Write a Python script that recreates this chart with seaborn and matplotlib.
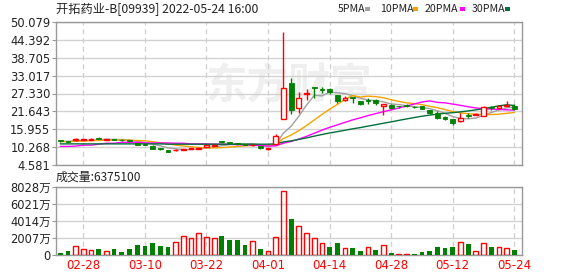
import numpy as np
import pandas as pd
import matplotlib
matplotlib.use("Agg")
import matplotlib.pyplot as plt
from matplotlib.patches import Rectangle
import seaborn as sns

# ---------------- data ----------------
title = "开拓药业-B[09939] 2022-05-24 16:00"
dates = ["02-23", "02-24", "02-25", "02-28", "03-01", "03-02", "03-03", "03-04", "03-07", "03-08",
         "03-09", "03-10", "03-11", "03-14", "03-15", "03-16", "03-17", "03-18", "03-21", "03-22",
         "03-23", "03-24", "03-25", "03-28", "03-29", "03-30", "03-31", "04-01", "04-04", "04-06",
         "04-07", "04-08", "04-11", "04-12", "04-13", "04-14", "04-19", "04-20", "04-21", "04-22",
         "04-25", "04-26", "04-27", "04-28", "04-29", "05-03", "05-04", "05-05", "05-06", "05-10",
         "05-11", "05-12", "05-13", "05-16", "05-17", "05-18", "05-19", "05-20", "05-23", "05-24"]
opens = [12.3, 12.0, 12.4, 12.6, 12.6, 13.0, 12.6, 12.7, 12.5, 12.2,
         11.5, 11.2, 10.7, 9.7, 9.3, 9.2, 9.5, 9.8, 9.7, 10.4,
         10.6, 11.9, 11.9, 11.5, 11.1, 10.8, 10.6, 9.7, 11.4, 19.1,
         30.6, 22.8, 27.2, 29.3, 28.5, 28.8, 26.9, 25.3, 26.1, 25.0,
         25.2, 25.3, 23.4, 23.8, 23.3, 23.8, 23.0, 23.2, 22.1, 21.0,
         20.0, 19.2, 18.5, 20.4, 20.6, 20.3, 22.8, 22.6, 23.5, 23.5]
highs = [12.5, 12.1, 13.2, 12.9, 13.1, 13.4, 12.9, 13.0, 12.7, 12.4,
         11.6, 11.3, 10.8, 10.0, 9.4, 9.6, 9.8, 10.1, 10.2, 11.1,
         10.9, 12.1, 12.0, 11.6, 11.2, 11.1, 10.7, 10.0, 14.4, 46.8,
         32.2, 27.9, 28.8, 29.5, 29.4, 29.1, 27.0, 26.6, 26.1, 25.1,
         26.0, 25.5, 24.1, 24.0, 23.5, 24.1, 23.2, 23.3, 22.2, 21.9,
         20.1, 19.3, 21.0, 21.0, 21.2, 23.2, 23.5, 23.6, 24.8, 23.9]
lows = [11.9, 11.8, 12.2, 12.4, 12.5, 12.7, 12.5, 12.5, 12.3, 12.0,
        10.8, 10.9, 9.6, 9.3, 8.6, 8.9, 9.3, 9.6, 9.6, 10.3,
        10.5, 11.6, 11.6, 11.1, 10.9, 10.7, 9.8, 9.4, 11.3, 19.1,
        20.7, 21.1, 25.4, 26.0, 27.6, 27.2, 24.3, 24.9, 24.3, 23.8,
        24.0, 23.8, 20.4, 22.4, 22.8, 23.1, 22.6, 22.3, 20.7, 19.2,
        18.9, 17.4, 18.4, 19.6, 20.4, 20.2, 22.2, 22.5, 23.4, 22.1]
closes = [12.1, 11.9, 12.8, 12.7, 12.8, 12.9, 12.7, 12.6, 12.4, 12.1,
          10.9, 11.0, 9.8, 9.6, 8.8, 9.5, 9.7, 9.95, 10.1, 11.0,
          10.8, 11.8, 11.7, 11.2, 11.0, 11.0, 9.9, 9.8, 13.8, 29.0,
          22.1, 25.8, 27.5, 29.1, 28.4, 27.9, 25.0, 26.0, 26.0, 24.1,
          25.1, 24.2, 24.0, 22.6, 23.2, 23.2, 22.9, 22.4, 21.0, 19.6,
          19.1, 17.9, 19.5, 20.3, 20.8, 23.1, 22.7, 23.5, 23.6, 22.4]
ma5 = [12.2, 12.1, 12.3, 12.4, 12.46, 12.62, 12.78, 12.74, 12.68, 12.54,
       12.14, 11.8, 11.24, 10.68, 10.02, 9.74, 9.48, 9.51, 9.61, 10.05,
       10.31, 10.73, 11.08, 11.3, 11.3, 11.34, 10.96, 10.58, 11.1, 14.7,
       16.92, 20.1, 23.64, 26.7, 26.58, 27.74, 27.58, 27.28, 26.66, 25.8,
       25.24, 25.08, 24.68, 24.0, 23.82, 23.44, 23.18, 22.86, 22.54, 21.82,
       21.0, 20.0, 19.42, 19.28, 19.52, 20.32, 21.28, 22.08, 22.74, 23.06]
ma10 = [12.0, 12.0, 12.1, 12.2, 12.3, 12.4, 12.45, 12.5, 12.5, 12.5,
        12.38, 12.29, 11.99, 11.68, 11.28, 10.94, 10.64, 10.375, 10.145, 10.035,
        10.025, 10.105, 10.295, 10.455, 10.675, 10.825, 10.845, 10.83, 11.2, 13.0,
        14.13, 15.53, 17.11, 18.9, 20.64, 22.33, 23.84, 25.46, 26.68, 26.19,
        26.49, 26.33, 25.98, 25.33, 24.81, 24.34, 24.13, 23.77, 23.27, 22.82,
        22.22, 21.59, 21.14, 20.91, 20.67, 20.66, 20.64, 20.75, 21.01, 21.29]
ma20 = [10.5, 10.5, 10.6, 10.9, 10.9, 11.2, 11.5, 11.5, 11.8, 11.8,
        11.8, 11.6, 11.6, 11.6, 11.6, 11.5, 11.5, 11.3, 11.3, 11.27,
        11.2, 11.2, 11.14, 11.07, 10.98, 10.88, 10.74, 10.6, 10.67, 11.52,
        12.08, 12.82, 13.7, 14.68, 15.66, 16.58, 17.34, 18.15, 18.94, 19.6,
        20.31, 20.93, 21.55, 22.12, 22.73, 23.34, 23.99, 24.62, 24.98, 24.5,
        24.36, 23.96, 23.56, 23.12, 22.74, 22.5, 22.39, 22.26, 22.14, 22.06]
ma30 = [11.3, 11.3, 11.3, 11.3, 11.3, 11.3, 11.3, 11.3, 11.3, 11.3,
        11.3, 11.3, 11.3, 11.3, 11.2, 11.2, 11.2, 11.2, 11.2, 11.2,
        11.2, 11.2, 11.2, 11.2, 11.2, 11.2, 11.2, 11.2, 11.31, 11.93,
        12.26, 12.72, 13.21, 13.76, 14.28, 14.78, 15.19, 15.64, 16.09, 16.49,
        16.96, 17.4, 17.87, 18.3, 18.78, 19.24, 19.68, 20.1, 20.46, 20.75,
        21.03, 21.23, 21.49, 21.79, 22.12, 22.52, 22.95, 23.41, 23.74, 23.52]
# volume in 万 (10k shares)
volume = [275, 510, 1060, 710, 590, 710, 470, 710, 390, 710,
          1220, 1060, 1460, 1060, 940, 1530, 2240, 1970, 2600, 2120,
          1970, 2280, 1770, 1770, 1180, 1650, 710, 470, 2120, 7550,
          4250, 3420, 2640, 1970, 1460, 940, 1460, 790, 820, 510,
          940, 630, 1180, 275, 120, 120, 120, 350, 470, 940,
          820, 940, 1530, 1300, 470, 1420, 940, 940, 820, 637.51]
vol_dir = "GGRRRGRGGGGGGGGRRRRRRGGGGRGRRRGRRRRGGRGGRGRGRRGGGGGGRGRRGRRG"
price_ticks = [4.581, 10.268, 15.955, 21.643, 27.330, 33.017, 38.705, 44.392, 50.079]
vol_ticks = [0, 2007, 4014, 6021, 8028]
ma_names = ["5PMA", "10PMA", "20PMA", "30PMA"]

# ---------------- style ----------------
RED = "#ff0000"
GREEN = "#008000"
MA_COLORS = ["#a0a0a0", "#f4a300", "#ff00ff", "#00703a"]
GRID = "#d2d2d2"
SPINE = "#999999"
TXT = "#222222"

sns.set_theme(style="white")
plt.rcParams["font.family"] = ["DejaVu Sans", "Noto Sans CJK SC"]

W, H = 578, 276
fig = plt.figure(figsize=(W / 100, H / 100), dpi=100)
fig.patch.set_facecolor("white")

L, R = 56, 522
ax = fig.add_axes([L / W, 1 - 165 / H, (R - L) / W, (165 - 22) / H])
axv = fig.add_axes([L / W, 1 - 255 / H, (R - L) / W, (255 - 187) / H])

n = len(closes)
idx = np.arange(n)
tick_pos = list(range(3, n, 8))
xlim = (-0.55, 60.0)

# ---------------- price panel ----------------
for a in (ax, axv):
    for s in a.spines.values():
        s.set_color(SPINE)
        s.set_linewidth(1)
    a.set_xlim(*xlim)
    a.set_xticks(tick_pos)
    a.xaxis.grid(True, color="#cfcfcf", linestyle=(0, (4, 3)), linewidth=0.9)
    a.yaxis.grid(True, color=GRID, linewidth=1)
    a.set_axisbelow(True)

ax.text(0.50, 0.56, "东方财富", transform=ax.transAxes, ha="center", va="center",
        fontsize=30, color="#efefef", fontweight="bold", family=["Noto Sans CJK SC"], zorder=0)

# MA lines via seaborn
ma_df = pd.DataFrame({"i": idx, "5PMA": ma5, "10PMA": ma10, "20PMA": ma20, "30PMA": ma30})
for name, col in zip(ma_names, MA_COLORS):
    sns.lineplot(data=ma_df, x="i", y=name, ax=ax, color=col, linewidth=1.0, zorder=2)

# candles
bw = 0.62
for i in range(n):
    o, h, l, c = opens[i], highs[i], lows[i], closes[i]
    up = c > o
    col = RED if up else GREEN
    lo_b, hi_b = min(o, c), max(o, c)
    hgt = max(hi_b - lo_b, 0.28)
    if up:
        ax.vlines(i, hi_b, h, color=col, linewidth=1.0, zorder=3)
        ax.vlines(i, l, lo_b, color=col, linewidth=1.0, zorder=3)
        ax.bar(i, hgt, bottom=lo_b, width=bw, facecolor="white", edgecolor=col,
               linewidth=1.0, zorder=4)
    else:
        ax.vlines(i, l, h, color=col, linewidth=1.0, zorder=3)
        ax.bar(i, hgt, bottom=lo_b, width=bw, facecolor=col, edgecolor=col,
               linewidth=0.6, zorder=4)

ax.set_ylim(price_ticks[0], price_ticks[-1])
ax.set_yticks(price_ticks)
ax.set_yticklabels([f"{v:.3f}" for v in price_ticks])
ax.set_xticklabels([])
ax.set_xlabel("")
ax.set_ylabel("")
ax.tick_params(axis="y", length=3, width=0.8, color=SPINE, labelsize=8.3,
               labelcolor=TXT, pad=1, left=True)
ax.tick_params(axis="x", length=0)

# ---------------- volume panel ----------------
dfv = pd.DataFrame({"i": idx, "vol": volume, "up": [d == "R" for d in vol_dir]})
sns.barplot(data=dfv[~dfv["up"]], x="i", y="vol", native_scale=True, color=GREEN,
            saturation=1, width=0.62, errorbar=None, ax=axv, linewidth=0, zorder=3)
sns.barplot(data=dfv[dfv["up"]], x="i", y="vol", native_scale=True, color=RED,
            saturation=1, width=0.62, errorbar=None, ax=axv, fill=False,
            linewidth=1.0, zorder=3)
axv.set_xlim(*xlim)
axv.set_ylim(vol_ticks[0], vol_ticks[-1])
axv.set_yticks(vol_ticks)
axv.set_yticklabels([f"{v}万" if v else "0" for v in vol_ticks])
axv.set_xticks(tick_pos)
axv.set_xticklabels([dates[p] for p in tick_pos])
axv.set_xlabel("")
axv.set_ylabel("")
axv.tick_params(axis="y", length=3, width=0.8, color=SPINE, labelsize=8.3,
                labelcolor=TXT, pad=1, left=True)
axv.tick_params(axis="x", length=0, labelsize=8.5, labelcolor=RED, pad=3)
axv.xaxis.grid(True, color="#cfcfcf", linestyle=(0, (4, 3)), linewidth=0.9)
axv.yaxis.grid(True, color=GRID, linewidth=1)

# ---------------- texts ----------------
fig.text(L / W, 1 - 9 / H, title, ha="left", va="center", fontsize=8.8, color=TXT,
         family=["Noto Sans CJK SC", "DejaVu Sans"])
fig.text(L / W, 1 - 177 / H, f"成交量:{int(round(volume[-1] * 10000))}", ha="left",
         va="center", fontsize=8.6, color=TXT, family=["Noto Sans CJK SC", "DejaVu Sans"])

leg_x = [338, 380, 425, 472]
rect_x = [365, 413, 460, 505]
for name, col, tx, rx in zip(ma_names, MA_COLORS, leg_x, rect_x):
    fig.text(tx / W, 1 - 9 / H, name, ha="left", va="center", fontsize=7.6, color=TXT,
             family=["Noto Sans CJK SC", "DejaVu Sans"])
    fig.patches.append(Rectangle((rx / W, 1 - 10.5 / H), 5 / W, 3 / H, transform=fig.transFigure,
                                 facecolor=col, edgecolor="none"))

fig.savefig("out.png", dpi=100, facecolor="white")
